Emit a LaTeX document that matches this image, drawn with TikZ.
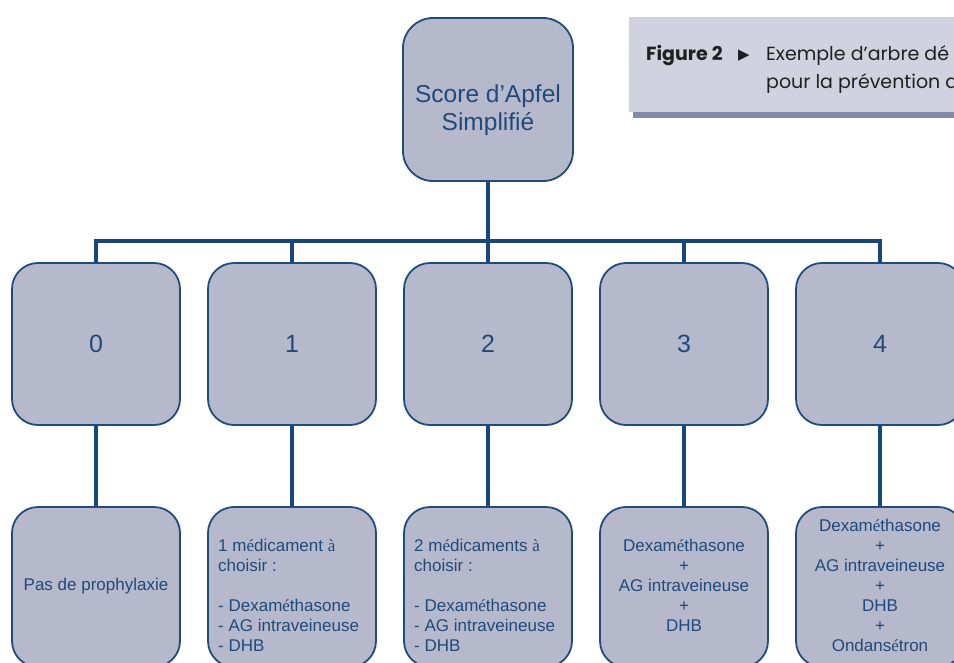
\documentclass[tikz,border=0pt]{standalone}
\usepackage{fontspec}
\usetikzlibrary{backgrounds}
\setmainfont{Liberation Sans}
\newfontfamily\capfont{Poppins}
\newfontfamily\symfont{DejaVu Sans}
\newfontfamily\accfont{Liberation Serif}
% accented letters set in a serif face
\newcommand\ea{{\accfont é}}
\newcommand\ag{{\accfont à}}

\definecolor{boxfill}{HTML}{B6B9CC}
\definecolor{boxline}{HTML}{1F4C7C}
\definecolor{linkc}{HTML}{17467A}
\definecolor{txt}{HTML}{1F4A7A}
\definecolor{capfill}{HTML}{D0D2DF}
\definecolor{capshadow}{HTML}{8389AB}
\definecolor{captxt}{HTML}{202020}

\tikzset{
  box/.style={draw=boxline, line width=1.8pt, fill=boxfill, text=txt,
    rounded corners=26pt, inner sep=0pt, minimum width=168pt},
  rootbox/.style={box, minimum width=170pt, minimum height=163pt, rounded corners=30pt},
  roottext/.style={text=txt, inner sep=0pt, align=center, font=\fontsize{24.5}{28}\selectfont},
  midbox/.style={box, minimum height=162pt, font=\fontsize{25}{28}\selectfont},
  lowbox/.style={box, minimum height=160pt},
  lowtext/.style={text=txt, inner sep=0pt, font=\fontsize{17}{20}\selectfont},
  link/.style={draw=linkc, line width=4.5pt, line join=miter},
  captext/.style={text=captxt, inner sep=0pt, font=\capfont\fontsize{19}{28}\selectfont}
}

\begin{document}
\begin{tikzpicture}[x=1pt, y=-1pt]
\useasboundingbox (0,0) rectangle (954,662);
\clip (0,0) rectangle (954,662);

% caption panel
\fill[capshadow] (633,110) rectangle (960,118);
\fill[capfill] (629,17) rectangle (960,112);
\node[captext, anchor=base west] (figlbl) at (646,60) {\bfseries Figure 2};
\node[text=captxt, inner sep=0pt, anchor=base west, font=\symfont\fontsize{15}{16}\selectfont] (figarrow) at (738,59) {▶};
\node[captext, anchor=base west] (capl1) at (766,60) {Exemple d’arbre dé};
\node[captext, anchor=base west] (capl2) at (766,88) {pour la prévention d};

% boxes
\node[rootbox] (root) at (488,99.5) {};
\node[roottext] (roottxt) at (488,110) {Score d’Apfel\\Simplifié};
\coordinate (bar) at (0,241);
\foreach \i/\x in {0/96, 1/292, 2/488, 3/684, 4/880} {
  \node[midbox] (m\i) at (\x,344) {\i};
  \node[lowbox] (l\i) at (\x,587) {};
}

% connectors, beneath the boxes
\begin{pgfonlayer}{background}
\draw[link] (root.south) -- (root.south |- bar);
\draw[link] (m0.north) -- (m0.north |- bar) -- (m4.north |- bar) -- (m4.north);
\foreach \i in {1,2,3} { \draw[link] (m\i.north) -- (m\i.north |- bar); }
\foreach \i in {0,...,4} { \draw[link] (m\i.south) -- (l\i.north); }
\end{pgfonlayer}

% box contents (north anchors sit one strut above the first baseline)
\node[lowtext] (t0) at (96,586) {Pas de prophylaxie};
\node[lowtext, anchor=north west, align=left] (t1) at (218,537)
  {\strut 1 m\ea dicament \ag\\choisir :\\[20pt]- Dexam\ea thasone\\- AG intraveineuse\\- DHB};
\node[lowtext, anchor=north west, align=left] (t2) at (414,537)
  {\strut 2 m\ea dicaments \ag\\choisir :\\[20pt]- Dexam\ea thasone\\- AG intraveineuse\\- DHB};
\node[lowtext, anchor=north, align=center] (t3) at (684,537)
  {\strut Dexam\ea thasone\\+\\AG intraveineuse\\+\\DHB};
\node[lowtext, anchor=north, align=center] (t4) at (880,517)
  {\strut Dexam\ea thasone\\+\\AG intraveineuse\\+\\DHB\\+\\Ondans\ea tron};
\end{tikzpicture}
\end{document}
